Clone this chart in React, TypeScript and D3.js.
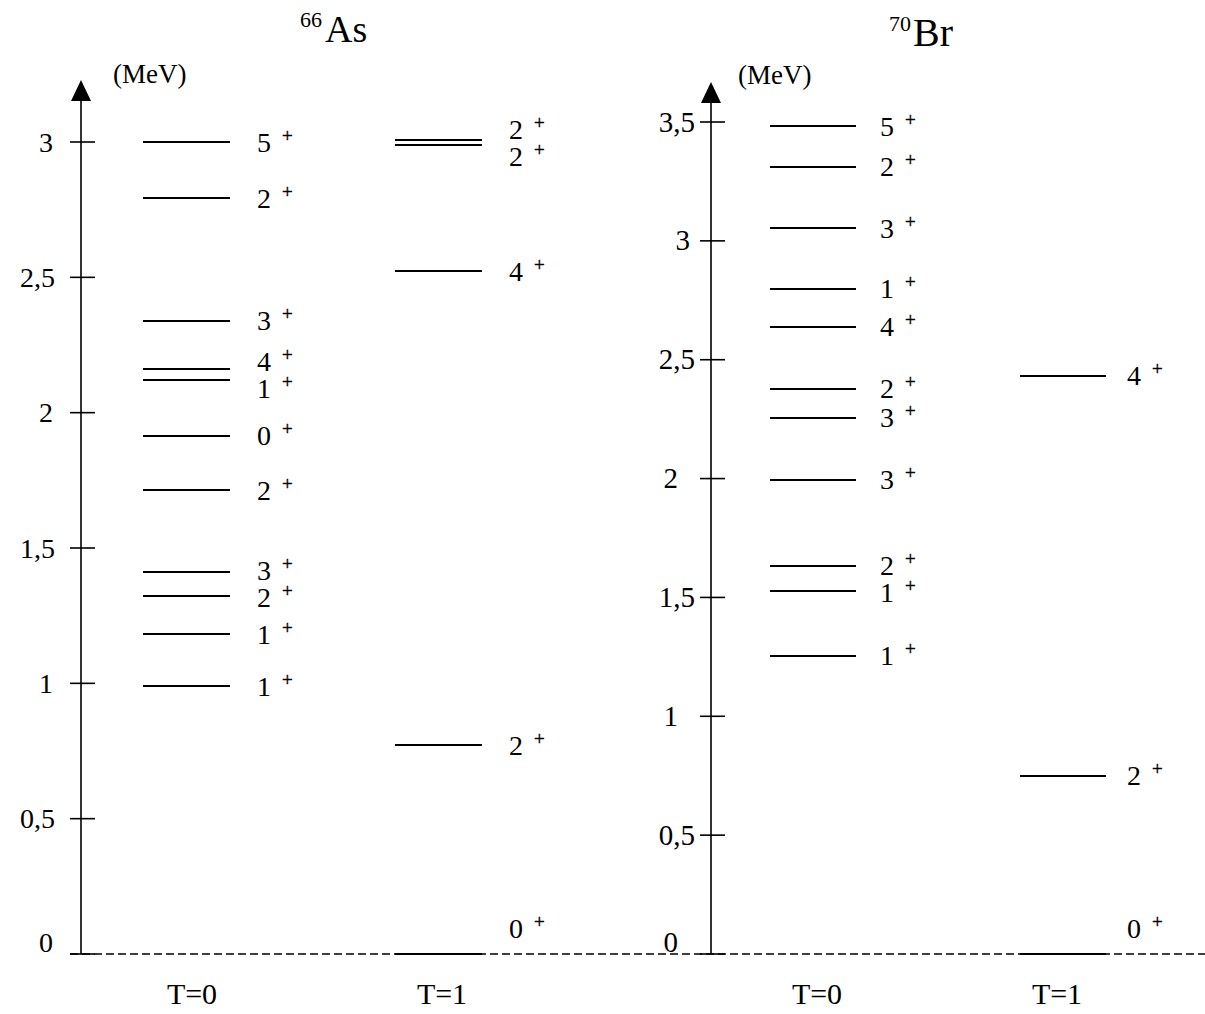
import React from "react";
import * as d3 from "d3";

// ---------- DATA ----------
const asTicks = [0, 0.5, 1, 1.5, 2, 2.5, 3];
const asTickLabels = ["0", "0,5", "1", "1,5", "2", "2,5", "3"];
const brTicks = [0, 0.5, 1, 1.5, 2, 2.5, 3, 3.5];
const brTickLabels = ["0", "0,5", "1", "1,5", "2", "2,5", "3", "3,5"];

const asT0Energy = [3.0, 2.793, 2.339, 2.161, 2.121, 1.914, 1.714, 1.411, 1.323, 1.182, 0.99];
const asT0Spin = ["5", "2", "3", "4", "1", "0", "2", "3", "2", "1", "1"];
const asT1Energy = [3.007, 2.989, 2.523, 0.772, 0];
const asT1Spin = ["2", "2", "4", "2", "0"];

const brT0Energy = [3.483, 3.311, 3.054, 2.798, 2.638, 2.377, 2.255, 1.994, 1.632, 1.527, 1.254];
const brT0Spin = ["5", "2", "3", "1", "4", "2", "3", "3", "2", "1", "1"];
const brT1Energy = [2.432, 0.749, 0];
const brT1Spin = ["4", "2", "0"];

const columnLabels = ["T=0", "T=1"];
const unitLabel = "(MeV)";

// ---------- LAYOUT ----------
const W = 1205;
const H = 1014;
const BASE_Y = 954;
const FONT = "'Liberation Serif', 'Times New Roman', serif";

type Col = { energies: number[]; spins: string[]; x1: number; x2: number; labelX: number; tLabelX: number };
type Panel = {
  axisX: number;
  domainMax: number;
  topY: number;
  tipY: number;
  ticks: number[];
  tickLabels: string[];
  labelEnd: number;
  tickFont: number;
  intDx: (v: number) => number;
  cols: Col[];
  massNum: string;
  element: string;
  massX: number;
  elemX: number;
  elemFont: number;
  titleY: number;
  unitX: number;
  unitY: number;
};

const panels: Panel[] = [
  {
    axisX: 81,
    domainMax: 3,
    topY: 142,
    tipY: 80,
    ticks: asTicks,
    tickLabels: asTickLabels,
    labelEnd: 55,
    tickFont: 28,
    intDx: () => -2,
    cols: [
      { energies: asT0Energy, spins: asT0Spin, x1: 143, x2: 230, labelX: 257, tLabelX: 192 },
      { energies: asT1Energy, spins: asT1Spin, x1: 395, x2: 482, labelX: 509, tLabelX: 442 },
    ],
    massNum: "66",
    element: "As",
    massX: 300,
    elemX: 325,
    elemFont: 38,
    titleY: 42,
    unitX: 113,
    unitY: 83,
  },
  {
    axisX: 711,
    domainMax: 3.5,
    topY: 122,
    tipY: 82,
    ticks: brTicks,
    tickLabels: brTickLabels,
    labelEnd: 695,
    tickFont: 29,
    intDx: (v: number) => (v === 3 ? -5 : -17),
    cols: [
      { energies: brT0Energy, spins: brT0Spin, x1: 770, x2: 856, labelX: 880, tLabelX: 817 },
      { energies: brT1Energy, spins: brT1Spin, x1: 1020, x2: 1106, labelX: 1127, tLabelX: 1057 },
    ],
    massNum: "70",
    element: "Br",
    massX: 889,
    elemX: 913,
    elemFont: 40,
    titleY: 46,
    unitX: 738,
    unitY: 84,
  },
];

function spreadLabels(ys: number[], minGap: number): number[] {
  const idx = ys.map((_, i) => i).sort((a, b) => ys[a] - ys[b]);
  const out = ys.slice();
  for (let iter = 0; iter < 50; iter++) {
    let moved = false;
    for (let k = 0; k < idx.length - 1; k++) {
      const a = idx[k];
      const b = idx[k + 1];
      const d = out[b] - out[a];
      if (d < minGap - 0.01) {
        const push = (minGap - d) / 2;
        out[a] -= push;
        out[b] += push;
        moved = true;
      }
    }
    if (!moved) break;
  }
  return out;
}

function PanelView({ p }: { p: Panel }) {
  const y = d3.scaleLinear().domain([0, p.domainMax]).range([BASE_Y, p.topY]);
  return (
    <g>
      {/* title */}
      <text x={p.massX} y={p.titleY - 15} fontFamily={FONT} fontSize={22} fill="#000">
        {p.massNum}
      </text>
      <text x={p.elemX} y={p.titleY} fontFamily={FONT} fontSize={p.elemFont} fill="#000">
        {p.element}
      </text>
      {/* unit */}
      <text x={p.unitX} y={p.unitY} fontFamily={FONT} fontSize={27} fill="#000">
        {unitLabel}
      </text>
      {/* axis */}
      <line x1={p.axisX} x2={p.axisX} y1={BASE_Y} y2={p.tipY + 12} stroke="#000" strokeWidth={1.6} />
      <path
        d={`M${p.axisX},${p.tipY} L${p.axisX - 10},${p.tipY + 21} L${p.axisX + 10},${p.tipY + 21} Z`}
        fill="#000"
      />
      {p.ticks.map((t, i) => {
        const isInt = Number.isInteger(t);
        return (
          <g key={i}>
            <line x1={p.axisX - 11} x2={p.axisX + 14} y1={y(t)} y2={y(t)} stroke="#000" strokeWidth={1.6} />
            <text
              x={p.labelEnd + (isInt ? p.intDx(t) : 0)}
              y={y(t) + 9.5 - (t === 0 ? 12 : 0)}
              textAnchor="end"
              fontFamily={FONT}
              fontSize={p.tickFont}
              fill="#000"
            >
              {p.tickLabels[i]}
            </text>
          </g>
        );
      })}
      {/* levels */}
      {p.cols.map((c, ci) => {
        const raw = c.energies.map((e) => y(e) - (e === 0 ? 26 : 0));
        const ly = spreadLabels(raw, 27);
        return (
          <g key={ci}>
            {c.energies.map((e, i) => (
              <line key={"l" + i} x1={c.x1} x2={c.x2} y1={y(e)} y2={y(e)} stroke="#000" strokeWidth={2} />
            ))}
            {c.spins.map((s, i) => (
              <g key={"t" + i}>
                <text x={c.labelX} y={ly[i] + 9.5} fontFamily={FONT} fontSize={28} fill="#000">
                  {s}
                </text>
                <text
                  x={c.labelX + 25}
                  y={ly[i] - 0.5}
                  fontFamily={FONT}
                  fontSize={19}
                  fill="#000"
                  stroke="#000"
                  strokeWidth={0.4}
                >
                  +
                </text>
              </g>
            ))}
            <text x={c.tLabelX} y={1004} textAnchor="middle" fontFamily={FONT} fontSize={30} fill="#000">
              {columnLabels[ci]}
            </text>
          </g>
        );
      })}
    </g>
  );
}

export default function App() {
  return (
    <svg
      width={W}
      height={H}
      viewBox={`0 0 ${W} ${H}`}
      style={{ position: "absolute", left: 0, top: 0, background: "#fff" }}
    >
      <rect x={0} y={0} width={W} height={H} fill="#fff" />
      <line x1={70} x2={W} y1={BASE_Y} y2={BASE_Y} stroke="#000" strokeWidth={1.5} strokeDasharray="8,4" />
      {panels.map((p, i) => (
        <PanelView key={i} p={p} />
      ))}
    </svg>
  );
}
